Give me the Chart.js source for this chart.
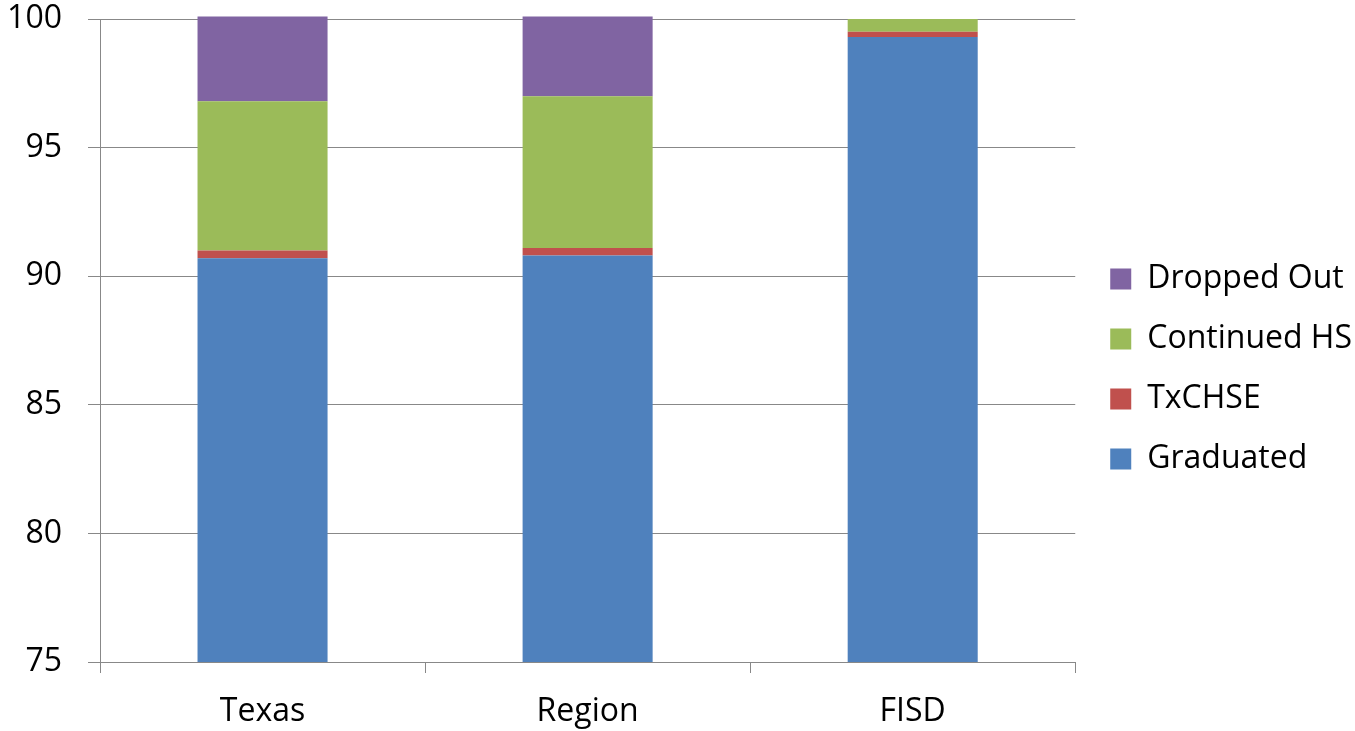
<!DOCTYPE html>
<html><head><meta charset="utf-8">
<script src="https://cdn.jsdelivr.net/npm/chart.js@4"></script>
<style>html,body{margin:0;padding:0;background:#fff}#wrap{width:1355px;height:731px}</style>
</head><body><div id="wrap"><canvas id="c"></canvas></div>
<script>
const categories = ["Texas", "Region", "FISD"];
const graduated = [90.7, 90.8, 99.3];
const txchse = [0.3, 0.3, 0.2];
const continuedHS = [5.8, 5.9, 0.5];
const droppedOut = [3.3, 3.1, 0];
const yTicks = [75, 80, 85, 90, 95, 100];

const FONT = '"Open Sans", sans-serif';
const ds = (label, data, color) => ({label, data, backgroundColor: color, borderWidth: 0, barPercentage: 0.4, categoryPercentage: 1, clip: {left: 0, top: 6, right: 0, bottom: 0}});

const legendShift = {
  id: 'legendShift',
  afterLayout(chart) {
    const lg = chart.legend;
    if (!lg) return;
    lg.left += 7; lg.right += 7;
    lg.top -= 6; lg.bottom -= 6;
  }
};

new Chart(document.getElementById('c'), {
  type: 'bar',
  data: {
    labels: categories,
    datasets: [
      ds('Graduated', graduated, '#4F81BD'),
      ds('TxCHSE', txchse, '#C0504D'),
      ds('Continued HS', continuedHS, '#9BBB59'),
      ds('Dropped Out', droppedOut, '#8064A2')
    ]
  },
  plugins: [legendShift],
  options: {
    responsive: true, maintainAspectRatio: false, animation: false,
    layout: {padding: {top: 19, right: 0, left: 7, bottom: 0}},
    plugins: {
      tooltip: {enabled: false},
      legend: {
        position: 'right', reverse: true,
        labels: {color: '#000', boxWidth: 21, boxHeight: 21, padding: 28, font: {family: FONT, size: 32}}
      }
    },
    scales: {
      x: {
        stacked: true,
        afterFit: (s) => { s.height = 69; },
        grid: {offset: true, drawOnChartArea: false, color: '#888', tickLength: 11},
        border: {color: '#888'},
        ticks: {color: '#000', padding: 20, font: {family: FONT, size: 32}}
      },
      y: {
        stacked: true, min: 75, max: 100,
        afterBuildTicks: (s) => { s.ticks = yTicks.map(v => ({value: v})); },
        afterFit: (s) => { s.paddingTop = 0; s.paddingBottom = 0; s.width = 93; },
        grid: {color: '#888', tickLength: 12},
        border: {color: '#888'},
        ticks: {color: '#000', padding: 26, font: {family: FONT, size: 32}}
      }
    }
  }
});
</script></body></html>
